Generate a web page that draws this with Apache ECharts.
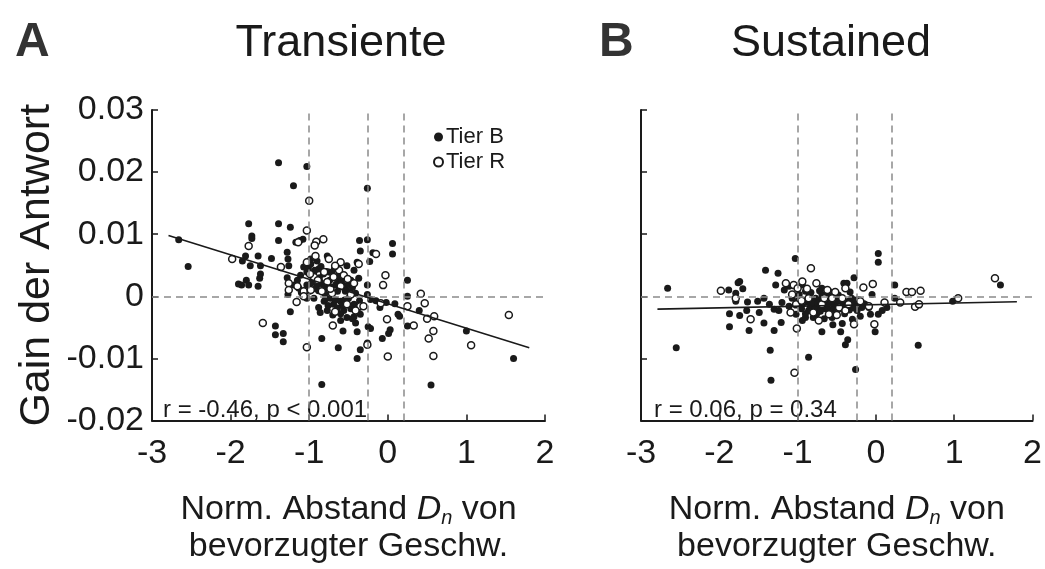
<!DOCTYPE html>
<html>
<head>
<meta charset="utf-8">
<script src="https://cdn.jsdelivr.net/npm/echarts@6/dist/echarts.min.js"></script>
<style>html,body{margin:0;padding:0;background:#fff}#c{width:1045px;height:569px}</style>
</head>
<body>
<div id="c"></div>
<script>
// ---- data (y values in units of 1e-3) ----
const panelTitles = ['Transiente', 'Sustained'];
const panelLetters = ['A', 'B'];
const xTicks = [-3, -2, -1, 0, 1, 2];
const yTicks = [-0.02, -0.01, 0, 0.01, 0.02, 0.03];
const yTickLabels = ['-0.02', '-0.01', '0', '0.01', '0.02', '0.03'];
const vLines = [-1, -0.25, 0.2];
const hLines = [0];
const statsA = 'r = -0.46, p < 0.001';
const statsB = 'r = 0.06, p = 0.34';
const fitX = [-2.79, 1.80];
const fitYA = [9.8, -8.3];
const fitYB = [-2.07, -0.88];

const tierB_A = [[-2.66,9.1],[-2.54,4.8],[-1.39,21.5],[-1.03,20.9],[-1.20,17.8],[-0.26,17.4],[-1.77,11.7],[-1.39,11.7],[-1.24,11.1],[-1.73,9.7],[-1.73,9.3],[-1.39,9.0],[-1.17,8.7],[-1.12,9.0],[-1.08,9.2],[-0.36,9.0],[-0.26,9.1],[0.06,8.5],[0.06,6.8],[-0.35,7.3],[-0.39,5.5],[-0.23,5.6],[-0.19,7.0],[-1.81,6.5],[-1.85,5.7],[-1.75,4.9],[-1.65,6.5],[-1.62,4.9],[-1.48,6.1],[-1.28,7.1],[-1.26,4.9],[-1.27,6.0],[-1.90,2.0],[-1.86,1.8],[-1.80,2.6],[-1.77,1.8],[-1.65,1.6],[-1.63,2.9],[-1.62,3.6],[-1.28,3.0],[-1.27,0.3],[-1.24,-2.5],[-1.43,-4.8],[-1.43,-6.2],[-1.33,-6.0],[-1.33,-7.3],[-0.84,-6.8],[-0.63,-8.3],[-0.57,-5.6],[-0.39,-10.0],[-0.35,-8.6],[-0.26,-7.5],[-0.84,-14.2],[0.55,-14.3],[1.00,-5.6],[1.60,-10.0],[0.25,2.6],[0.25,0.0],[0.40,-2.3],[0.25,-4.8],[0.09,-1.2],[-0.02,-1.0],[0.13,-2.9],[0.15,-3.2],[-0.07,-6.8],[0.03,-5.4],[0.01,-6.0],[-0.25,-4.9],[-0.22,-5.2],[-0.39,-5.7],[-0.41,-4.3],[-0.43,-3.3],[-0.26,1.8],[-0.26,0.3],[-0.22,-0.5],[-0.37,2.9],[-0.47,2.6],[-0.52,4.9],[-0.43,4.2],[-0.66,2.9],[-0.75,3.9],[-0.77,6.5],[-0.90,5.7],[-0.98,5.2],[-1.03,3.9],[-1.07,4.7],[-0.86,2.3],[-0.79,1.3],[-0.94,-0.3],[-1.03,-0.3],[-0.86,-2.6],[-0.77,-2.3],[-0.69,-1.3],[-0.60,-0.8],[-0.56,-2.3],[-0.52,-3.4],[-0.60,-3.9],[-0.64,0.8],[-0.60,1.8],[-0.54,0.8],[-0.50,-0.3],[-0.43,-1.3],[-0.39,-2.3],[-0.35,-2.9],[-0.81,-0.8],[-0.73,-0.3],[-0.90,1.8],[-0.96,3.4],[-1.03,1.8],[-1.15,2.6],[-1.19,1.8],[-1.13,1.3],[-1.11,3.4],[-0.98,6.0],[-0.94,3.9],[-0.95,2.8],[-0.88,4.4],[-0.82,3.6],[-0.70,3.0],[-0.72,1.5],[-0.62,2.2],[-0.55,1.6],[-0.48,0.6],[-0.66,-0.6],[-0.58,-1.4],[-0.47,-2.0],[-0.80,0.4],[-0.92,1.2],[-0.85,4.8],[-0.68,4.4],[-0.60,-2.8],[-0.70,-3.0],[-0.45,-3.6],[-0.10,-1.8],[-0.15,-0.7],[-1.10,0.6],[-1.00,0.8],[-0.76,-1.5],[-0.88,-1.8],[-0.93,4.2],[-0.87,3.0],[-0.83,2.0],[-0.78,4.0],[-0.74,2.6],[-0.71,3.8],[-0.66,1.9],[-0.63,3.3],[-0.58,2.6],[-0.53,1.1],[-0.50,2.0],[-0.45,1.4],[-0.41,0.5],[-0.88,0.9],[-0.97,2.2],[-1.01,4.6],[-0.79,-0.4],[-0.64,-1.9],[-0.55,-0.6],[-0.36,-0.7]];
const tierR_A = [[-1.00,15.4],[-1.03,10.6],[-0.82,9.2],[-0.91,8.8],[-1.14,8.7],[-0.93,8.2],[-1.77,8.1],[-1.98,6.0],[-1.36,4.7],[-0.15,6.8],[-0.03,3.4],[-0.06,1.8],[0.42,0.4],[0.47,-1.1],[0.59,-3.2],[0.50,-3.6],[0.58,-5.6],[0.52,-6.8],[0.58,-9.6],[0.25,-1.6],[0.33,-4.7],[-0.01,-3.7],[0.00,-9.7],[1.54,-3.0],[1.06,-7.9],[-0.26,-7.8],[-0.09,-1.1],[-1.59,-4.3],[-1.03,-8.2],[-1.16,-0.9],[-0.70,-4.7],[-0.67,-2.5],[-0.52,-1.3],[-0.35,-1.6],[-0.47,0.3],[-0.60,1.6],[-0.71,0.5],[-0.75,6.0],[-0.62,4.2],[-0.69,3.1],[-0.92,6.5],[-1.03,5.5],[-0.94,3.1],[-1.07,0.8],[-1.26,2.1],[-1.26,1.0],[-1.15,1.6],[-1.07,0.0],[-0.98,1.0],[-0.81,3.9],[-0.77,2.3],[-0.84,0.8],[-0.56,3.4],[-0.43,2.1],[-0.60,5.5],[-0.37,5.2],[-0.31,-1.6],[-0.41,-2.3],[-0.89,2.6],[-0.73,1.2],[-0.67,4.9],[-0.51,2.8],[-0.99,3.6]];
const tierB_B = [[-2.66,1.3],[-2.55,-8.3],[-1.88,1.0],[-1.76,2.2],[-1.74,2.4],[-1.70,1.2],[-1.79,0.5],[-1.41,4.2],[-1.25,3.7],[-1.03,6.1],[-1.35,-8.7],[-1.34,-13.5],[-0.86,-9.8],[-0.26,-11.8],[0.03,6.9],[0.03,5.5],[-0.28,3.0],[0.24,1.8],[0.24,-0.3],[0.54,-7.9],[1.59,1.8],[0.98,-0.8],[-1.87,-4.9],[-1.62,-5.5],[-1.43,-4.3],[-1.30,-5.5],[-1.21,-4.2],[-1.87,-2.8],[-1.74,-3.1],[-1.65,-2.3],[-1.49,-2.6],[-1.79,-0.8],[-1.64,-0.9],[-1.51,-0.8],[-1.43,-0.3],[-1.36,-1.3],[-1.30,-2.1],[-1.24,-2.3],[-1.28,1.8],[-1.17,1.0],[-1.11,1.6],[-1.07,-0.3],[-1.11,-1.6],[-1.02,-2.9],[-0.94,-3.9],[-0.90,-3.4],[-0.77,-3.1],[-0.69,-5.7],[-0.56,-3.4],[-0.45,-5.7],[-0.43,-4.4],[-0.39,-7.8],[-0.36,-7.0],[-0.41,2.1],[-0.37,2.1],[-0.31,-0.3],[-0.26,-1.3],[-0.24,-2.3],[-0.09,-1.8],[-0.07,-2.9],[-0.01,-5.7],[0.03,-2.9],[0.08,-2.3],[0.14,-1.8],[-0.05,0.3],[-0.22,-0.5],[-0.60,-0.8],[-0.69,0.3],[-0.77,-0.3],[-0.86,-1.0],[-0.94,-1.3],[-1.00,-0.8],[-0.90,0.8],[-0.69,1.3],[-0.60,0.8],[-0.52,-0.3],[-0.43,-1.3],[-0.35,-0.8],[-0.52,-2.3],[-0.73,-1.8],[-0.86,-2.3],[-0.98,0.3],[-0.94,1.8],[-0.80,-1.5],[-0.65,-2.0],[-0.50,-1.2],[-0.30,-1.6],[-0.15,-1.2],[-0.85,0.2],[-0.70,-0.6],[-0.58,-2.6],[-0.95,-2.0],[-0.40,-2.8],[-0.62,-1.4],[-0.75,-2.7],[-0.20,-3.2],[-1.20,-1.0],[-0.55,0.5],[-0.97,-0.4],[-0.92,-1.0],[-0.88,-0.6],[-0.84,-1.9],[-0.81,-0.9],[-0.78,-2.1],[-0.74,-1.1],[-0.71,-2.4],[-0.67,-0.9],[-0.64,-1.7],[-0.61,-2.1],[-0.57,-1.0],[-0.54,-1.7],[-0.50,-2.5],[-0.47,-0.8],[-0.44,-2.0],[-0.41,-1.0],[-0.38,-1.6],[-0.34,-2.2],[-0.31,-1.0],[-0.28,-1.9],[-0.25,-0.6],[-0.18,-1.8],[-0.12,-1.4],[-0.83,0.6],[-0.72,0.9],[-0.63,0.2],[-0.48,0.2],[-0.33,0.7],[-0.90,-2.8],[-0.80,-3.4],[-0.66,-3.6],[-0.55,-4.6],[-0.30,-3.7]];
const tierR_B = [[-1.98,0.9],[-1.79,-0.3],[-1.60,-3.7],[-1.15,2.1],[-1.05,1.8],[-0.94,2.4],[-0.83,4.5],[-0.76,2.1],[-0.62,1.0],[-0.52,0.7],[-0.39,1.3],[-0.16,1.4],[-0.04,2.0],[-0.28,-4.5],[-0.02,-4.5],[0.11,-1.0],[-0.09,-1.6],[0.31,-1.0],[0.39,0.7],[0.46,0.7],[0.57,0.9],[0.50,-1.7],[0.55,-1.3],[1.05,-0.3],[1.52,2.9],[-1.04,-12.3],[-1.01,-5.2],[-1.09,-2.6],[-0.73,-3.9],[-0.60,-2.9],[-0.47,-1.8],[-0.39,-2.3],[-1.00,1.3],[-0.86,-0.3],[-0.69,-1.3],[-0.56,-0.3],[-0.43,-0.3],[-1.02,-1.3],[-1.07,0.3],[-0.95,-0.7],[-0.80,-2.6],[-0.66,-0.3],[-0.50,-3.0],[-0.35,-1.3],[-0.88,1.2],[-0.20,-0.8]];

// ---- chart ----
const FONT = '"Liberation Sans", Arial, Helvetica, sans-serif';
const INK = '#1a1a1a';
const sc = a => a.map(p => [p[0], p[1] / 1000]);
const yLabel = v => {
  const i = yTicks.findIndex(t => Math.abs(t - v) < 1e-9);
  return i >= 0 ? yTickLabels[i] : '';
};

const grids = [
  { left: 152, top: 110, width: 393, height: 319 },
  { left: 641, top: 110, width: 393, height: 319 }
];

function xAxis(i) {
  return {
    gridIndex: i, type: 'value', min: xTicks[0], max: xTicks[xTicks.length - 1], interval: 1,
    splitLine: { show: false },
    axisLine: { onZero: false, lineStyle: { color: INK, width: 2 } },
    axisTick: { inside: true, length: 6, lineStyle: { color: INK, width: 1.5 } },
    axisLabel: { color: INK, fontSize: 34, fontFamily: FONT, margin: 16 },
    nameLocation: 'middle', nameGap: 71,
    name: '{a|Norm. Abstand }{i|D}{s|n}{a| von}\n{a|bevorzugter Geschw.}',
    nameTextStyle: {
      rich: {
        a: { fontSize: 34, fontFamily: FONT, color: INK, lineHeight: 37 },
        i: { fontSize: 34, fontFamily: FONT, color: INK, fontStyle: 'italic', lineHeight: 37 },
        s: { fontSize: 20, fontFamily: FONT, color: INK, fontStyle: 'italic', verticalAlign: 'bottom', padding: [14, 0, 0, 0], lineHeight: 37 }
      }
    }
  };
}
function yAxis(i) {
  return {
    gridIndex: i, type: 'value', min: yTicks[0], max: yTicks[yTicks.length - 1], interval: 0.01,
    splitLine: { show: false },
    axisLine: { onZero: false, lineStyle: { color: INK, width: 2 } },
    axisTick: { inside: true, length: 6, lineStyle: { color: INK, width: 1.5 } },
    axisLabel: { show: i === 0, color: INK, fontSize: 34, fontFamily: FONT, margin: 8, formatter: yLabel },
    name: i === 0 ? 'Gain der Antwort' : '',
    nameLocation: 'middle', nameGap: 93,
    nameTextStyle: { fontSize: 43, fontFamily: FONT, color: INK }
  };
}

const dashStyle = { color: '#8a8a8a', type: [7, 5], width: 1.5 };
function guides(i) {
  return {
    type: 'scatter', xAxisIndex: i, yAxisIndex: i, data: [], silent: true, z: 1,
    markLine: {
      silent: true, symbol: 'none', label: { show: false }, lineStyle: dashStyle, animation: false,
      data: vLines.map(v => ({ xAxis: v })).concat(hLines.map(h => ({ yAxis: h })))
    }
  };
}
function fit(i, ys) {
  return {
    type: 'line', xAxisIndex: i, yAxisIndex: i, symbol: 'none', silent: true, z: 5,
    lineStyle: { color: INK, width: 1.6 },
    data: fitX.map((x, k) => [x, ys[k] / 1000])
  };
}
function pts(i, name, data, open) {
  return {
    name: name, type: 'scatter', xAxisIndex: i, yAxisIndex: i, symbol: 'circle', symbolSize: 7, z: 3,
    itemStyle: open ? { color: '#fff', borderColor: INK, borderWidth: 1.5, opacity: 1 } : { color: INK, opacity: 1 },
    data: sc(data)
  };
}

const option = {
  animation: false,
  backgroundColor: '#fff',
  textStyle: { fontFamily: FONT },
  title: [
    { text: panelLetters[0], left: 10, top: 14, textStyle: { fontSize: 48, fontWeight: 'bold', color: '#333', fontFamily: FONT } },
    { text: panelTitles[0], left: 336, top: 16, textAlign: 'center', textStyle: { fontSize: 45, fontWeight: 'normal', color: INK, fontFamily: FONT } },
    { text: panelLetters[1], left: 594, top: 14, textStyle: { fontSize: 48, fontWeight: 'bold', color: '#333', fontFamily: FONT } },
    { text: panelTitles[1], left: 826, top: 16, textAlign: 'center', textStyle: { fontSize: 45, fontWeight: 'normal', color: INK, fontFamily: FONT } }
  ],
  legend: {
    data: ['Tier B', 'Tier R'], orient: 'vertical', left: 428, top: 121,
    icon: 'circle', itemWidth: 9, itemHeight: 9, itemGap: 3,
    textStyle: { fontSize: 22, fontFamily: FONT, color: INK, padding: [0, 0, 0, -2] }
  },
  graphic: [
    { type: 'text', left: 163, top: 398, style: { text: statsA, fontSize: 24, fontFamily: FONT, fill: INK } },
    { type: 'text', left: 654, top: 398, style: { text: statsB, fontSize: 24, fontFamily: FONT, fill: INK } }
  ],
  grid: grids,
  xAxis: [xAxis(0), xAxis(1)],
  yAxis: [yAxis(0), yAxis(1)],
  series: [
    guides(0), guides(1),
    pts(0, 'Tier B', tierB_A, false), pts(0, 'Tier R', tierR_A, true),
    pts(1, 'Tier B', tierB_B, false), pts(1, 'Tier R', tierR_B, true),
    fit(0, fitYA), fit(1, fitYB)
  ]
};

const chart = echarts.init(document.getElementById('c'), null, { renderer: 'canvas' });
chart.setOption(option);
</script>
</body>
</html>
